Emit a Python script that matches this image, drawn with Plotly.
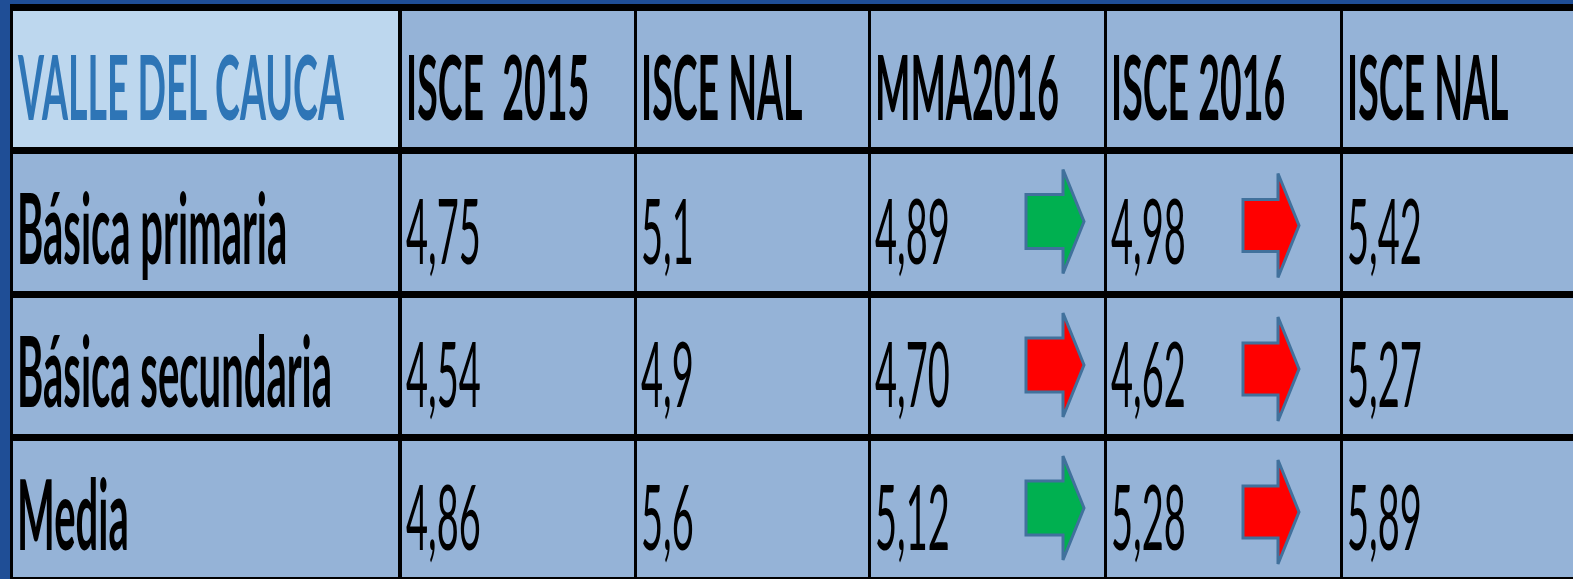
import plotly.graph_objects as go

# ---- data ----
header = ["VALLE DEL CAUCA", "ISCE\u00a0 2015", "ISCE NAL", "MMA2016", "ISCE 2016", "ISCE NAL"]
levels = ["Básica primaria", "Básica secundaria", "Media"]
isce_2015 = [4.75, 4.54, 4.86]
isce_nal_2015 = [5.1, 4.9, 5.6]
mma_2016 = [4.89, 4.70, 5.12]
isce_2016 = [4.98, 4.62, 5.28]
isce_nal_2016 = [5.42, 5.27, 5.89]
decimals = [2, 1, 2, 2, 2]

# ---- style / layout ----
W, H = 1573, 579
FRAME = "#1f4e96"
GRID = "#000000"
CELL = "#95b3d7"
CORNER = "#bdd7ee"
TITLE_COLOR = "#2e75b6"
GREEN = "#00b050"
RED = "#ff0000"
OUTLINE = "#41719c"
SY = 2.42  # vertical stretch of the text, as in the reference

vlines = [(10, 13), (398, 402), (634, 637), (868, 871), (1104, 1107), (1340, 1343)]
hlines = [(4, 11), (147, 154), (291, 298), (434, 441), (577, 579)]

col_l = [v[1] for v in vlines]
col_r = [v[0] for v in vlines[1:]] + [W]
row_t = [h[1] for h in hlines[:-1]]
row_b = [h[0] for h in hlines[1:]]

columns = [isce_2015, isce_nal_2015, mma_2016, isce_2016, isce_nal_2016]

def fmt(v, d):
    return f"{v:.{d}f}".replace(".", ",")

shapes = [dict(type="rect", xref="x", yref="y", x0=vlines[0][0], x1=W, y0=hlines[0][0], y1=H,
               fillcolor=GRID, line=dict(width=0), layer="below")]
for r in range(len(row_t)):
    for c in range(len(col_l)):
        fill = CORNER if (r == 0 and c == 0) else CELL
        shapes.append(dict(type="rect", xref="x", yref="y", x0=col_l[c], x1=col_r[c],
                           y0=row_t[r], y1=row_b[r], fillcolor=fill, line=dict(width=0),
                           layer="below"))

annotations = []
def add_text(txt, c, r, size, bold, color):
    x = col_l[c] + (2 if c == 0 else 2)
    y = (row_t[r] + row_b[r]) / 2 + 5
    annotations.append(dict(x=x, y=y, xref="x", yref="y", xanchor="left", yanchor="middle",
                            text=txt, showarrow=False,
                            font=dict(family="Lato", size=size, color=color,
                                      weight="bold" if bold else "normal")))

for c, h in enumerate(header):
    add_text(h, c, 0, 37.5, True, TITLE_COLOR if c == 0 else "#000000")
for r, lv in enumerate(levels):
    add_text(lv, 0, r + 1, 40, True, "#000000")
    for c, vals in enumerate(columns):
        add_text(fmt(vals[r], decimals[c]), c + 1, r + 1, 38, False, "#000000")

# arrows: MMA2016 column (met target -> green), ISCE 2016 column (vs national -> red/green)
def arrow(xl, xh, xt, yc, hs, hh, color):
    path = (f"M {xl},{yc - hs} L {xh},{yc - hs} L {xh},{yc - hh} L {xt},{yc} "
            f"L {xh},{yc + hh} L {xh},{yc + hs} L {xl},{yc + hs} Z")
    return dict(type="path", xref="x", yref="y", path=path, fillcolor=color,
                line=dict(color=OUTLINE, width=3), layer="above")

for r in range(len(levels)):
    yc = (row_t[r + 1] + row_b[r + 1]) / 2
    mma_color = GREEN if isce_2016[r] >= mma_2016[r] else RED
    nal_color = GREEN if isce_2016[r] >= isce_nal_2016[r] else RED
    c = 3
    shapes.append(arrow(col_l[c] + 155, col_l[c] + 192, col_l[c] + 213, yc - 1, 27, 52, mma_color))
    c = 4
    shapes.append(arrow(col_l[c] + 136, col_l[c] + 171, col_l[c] + 192, yc + 3, 26, 52, nal_color))

fig = go.Figure(go.Scatter(x=[], y=[], showlegend=False))
fig.update_layout(
    width=W, height=H, margin=dict(l=0, r=0, t=0, b=0),
    paper_bgcolor=FRAME, plot_bgcolor=FRAME,
    xaxis=dict(range=[0, W], visible=False, fixedrange=True),
    yaxis=dict(range=[H, 0], visible=False, fixedrange=True),
    shapes=shapes, annotations=annotations, showlegend=False,
)

post = """
document.body.style.margin = '0';
document.body.style.overflow = 'hidden';
var gd = document.getElementById('{plot_id}');
function stretchText(){
  gd.querySelectorAll('.annotation-text').forEach(function(t){
    var b = t.getBBox();
    var cy = b.y + b.height / 2;
    t.setAttribute('transform', 'translate(0,' + cy + ') scale(1,%s) translate(0,' + (-cy) + ')');
  });
}
stretchText();
gd.on('plotly_afterplot', stretchText);
""" % SY

fig.write_html("out.html", post_script=post, config={"staticPlot": True})
